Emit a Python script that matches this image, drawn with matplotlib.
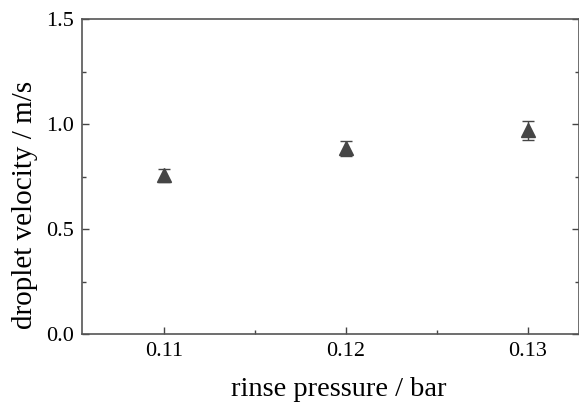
import matplotlib
matplotlib.use('Agg')
import matplotlib.pyplot as plt
from matplotlib.ticker import MultipleLocator

pressure = [0.11, 0.12, 0.13]
velocity = [0.755, 0.885, 0.970]
velocity_err = [0.030, 0.035, 0.045]
yticks = [0.0, 0.5, 1.0, 1.5]
ytick_labels = ['0.0', '0.5', '1.0', '1.5']

plt.rcParams['font.family'] = ['Liberation Serif', 'DejaVu Serif']

fig = plt.figure(figsize=(5.79, 4.03), dpi=100)
ax = fig.add_axes([82 / 579, 1 - 334 / 403, 497 / 579, 315 / 403])

ax.errorbar(pressure, velocity, yerr=velocity_err, fmt='^', color='#454545',
            ecolor='#454545', markersize=10, capsize=4, elinewidth=1.0, capthick=1.0)

ax.set_xlim(0.1055, 0.1328)
ax.set_ylim(0.0, 1.5)
ax.set_xticks(pressure)
ax.set_xticklabels(['0.11', '0.12', '0.13'])
ax.xaxis.set_minor_locator(MultipleLocator(0.005))
ax.set_yticks(yticks)
ax.set_yticklabels(ytick_labels)
ax.yaxis.set_minor_locator(MultipleLocator(0.25))

ax.tick_params(which='both', direction='in', right=True, top=False, labelsize=16, pad=6)
ax.tick_params(which='major', length=5, width=1, color='#444444')
ax.tick_params(which='minor', length=3, width=1, color='#444444')
for s in ax.spines.values():
    s.set_color('#555555')
    s.set_linewidth(1.2)

ax.set_xlabel('rinse pressure / bar', fontsize=20.5)
ax.set_ylabel('droplet velocity / m/s', fontsize=21)
ax.xaxis.set_label_coords(0.516, -0.135)
ax.yaxis.set_label_coords(-0.088, 0.41)

fig.savefig('out.png', dpi=100)
